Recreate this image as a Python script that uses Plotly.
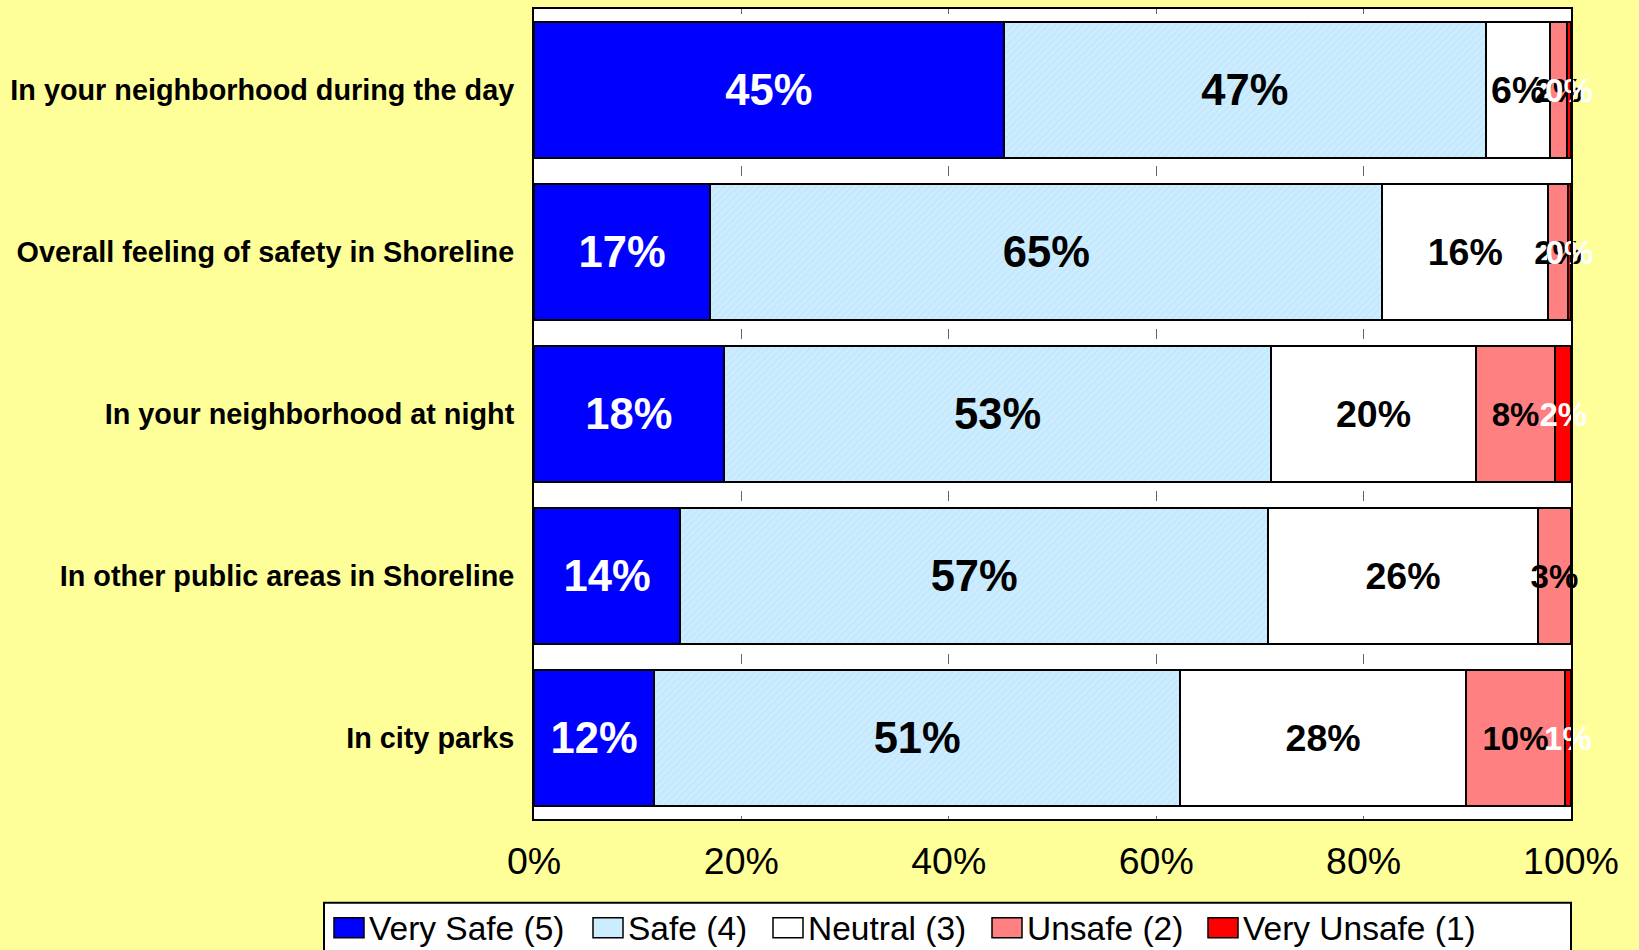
import plotly.graph_objects as go

# ---- data ----
categories = [
    "In your neighborhood during the day",
    "Overall feeling of safety in Shoreline",
    "In your neighborhood at night",
    "In other public areas in Shoreline",
    "In city parks",
]
series_names = ["Very Safe (5)", "Safe (4)", "Neutral (3)", "Unsafe (2)", "Very Unsafe (1)"]
very_safe = [45.3, 17.0, 18.3, 14.1, 11.6]
safe = [46.5, 64.8, 52.8, 56.7, 50.7]
neutral = [6.2, 16.0, 19.7, 26.0, 27.6]
unsafe = [1.6, 1.9, 7.7, 3.2, 9.5]
very_unsafe = [0.4, 0.3, 1.5, 0.0, 0.6]
label_very_safe = ["45%", "17%", "18%", "14%", "12%"]
label_safe = ["47%", "65%", "53%", "57%", "51%"]
label_neutral = ["6%", "16%", "20%", "26%", "28%"]
label_unsafe = ["2%", "2%", "8%", "3%", "10%"]
label_very_unsafe = ["0%", "0%", "2%", "", "1%"]
x_tick_vals = [0, 20, 40, 60, 80, 100]
x_tick_text = ["0%", "20%", "40%", "60%", "80%", "100%"]

# ---- styling ----
FONT = "Liberation Sans, Arial, sans-serif"
W, H = 1639, 950
L, R, T, B = 534, 1571, 7, 819  # plot area in px

colors = ["#0000FF", "#CCECFF", "#FFFFFF", "#FF8080", "#FF0000"]
text_colors = ["white", "black", "black", "black", "white"]
text_sizes = [43.5, 43.5, 37.5, 33, 33]
values = [very_safe, safe, neutral, unsafe, very_unsafe]
labels = [label_very_safe, label_safe, label_neutral, label_unsafe, label_very_unsafe]

fig = go.Figure()
for i in range(5):
    marker = dict(color=colors[i], line=dict(color="black", width=2))
    if i == 1:
        marker["pattern"] = dict(shape="/", fgcolor="#B3DEF5", size=5, solidity=0.25)
    fig.add_trace(go.Bar(
        y=categories, x=values[i], name=series_names[i], orientation="h",
        marker=marker,
        text=labels[i], textposition="inside", insidetextanchor="middle",
        textangle=0, constraintext="none", cliponaxis=False,
        textfont=dict(family=FONT, size=text_sizes[i], color=text_colors[i], weight="bold"),
        showlegend=False, hoverinfo="skip",
    ))

def px_x(p):
    return (p - L) / (R - L)

def px_y(p):
    return (B - p) / (B - T)

shapes = []
annotations = []
# legend box
shapes.append(dict(type="rect", xref="paper", yref="paper",
                   x0=px_x(324), x1=px_x(1571), y0=px_y(965), y1=px_y(903),
                   fillcolor="white", line=dict(color="black", width=2), layer="above"))
sw_x = [334, 593, 773, 992, 1208]
for i in range(5):
    shapes.append(dict(type="rect", xref="paper", yref="paper",
                       x0=px_x(sw_x[i]), x1=px_x(sw_x[i] + 30), y0=px_y(938), y1=px_y(918),
                       fillcolor=colors[i], line=dict(color="black", width=1.5), layer="above"))
    annotations.append(dict(xref="paper", yref="paper", x=px_x(sw_x[i] + 33), y=px_y(929),
                            xanchor="left", yanchor="middle", text=series_names[i],
                            showarrow=False, font=dict(family=FONT, size=33.5, color="black")))

fig.update_layout(
    width=W, height=H,
    margin=dict(l=L, r=W - R, t=T, b=H - B, pad=0),
    paper_bgcolor="#FFFF99", plot_bgcolor="white",
    barmode="stack", bargap=0.156,
    font=dict(family=FONT, color="black"),
    shapes=shapes, annotations=annotations,
    xaxis=dict(range=[0, 100], tickvals=x_tick_vals, ticktext=x_tick_text,
               tickfont=dict(family=FONT, size=37.5, color="black"),
               showline=True, linecolor="black", linewidth=2, mirror=True,
               ticks="", showgrid=True, gridcolor="#666666", gridwidth=1,
               griddash="5px,152.4px,5px,0px", zeroline=False, fixedrange=True,
               ticklabelstandoff=8),
    yaxis=dict(autorange="reversed", type="category",
               tickfont=dict(family=FONT, size=28.8, color="black", weight="bold"),
               showline=True, linecolor="black", linewidth=2, mirror=True,
               ticks="", showgrid=False, fixedrange=True, ticklabelstandoff=12),
)

fig.write_html("out.html", config={"displayModeBar": False},
               post_script="document.body.style.margin='0';")
